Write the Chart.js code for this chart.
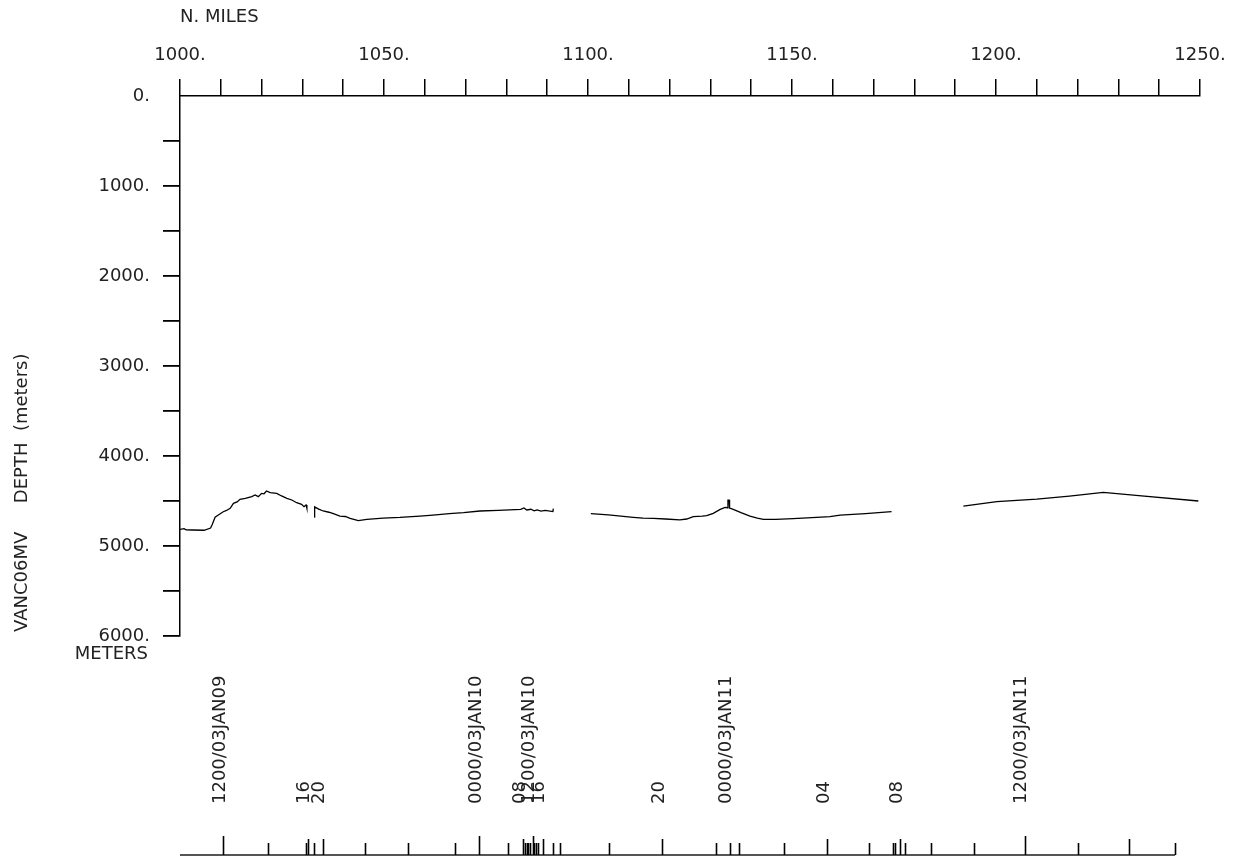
<!DOCTYPE html>
<html>
<head>
<meta charset="utf-8">
<title>VANC06MV depth</title>
<script src="https://cdn.jsdelivr.net/npm/chart.js@4.4.1/dist/chart.umd.min.js"></script>
<style>
  body { margin: 0; background: #fff; }
  #wrap { width: 1235px; height: 859px; }
</style>
</head>
<body>
<div id="wrap"><canvas id="depthChart" width="1235" height="859"></canvas></div>
<script>
// depth profile, one pair of arrays per track segment (n. miles, meters)
var seg1Miles = [1000.0, 1001.0, 1001.5, 1003.0, 1005.9, 1007.5, 1007.9, 1008.6, 1009.4, 1010.6, 1011.4, 1012.3, 1013.1, 1014.0, 1014.7, 1016.0, 1017.6, 1018.4, 1019.2, 1020.0, 1020.6, 1021.2, 1022.1, 1023.7, 1024.9, 1026.2, 1027.4, 1028.6, 1029.8, 1030.4, 1030.9, 1031.1];
var seg1Depth = [4815, 4808, 4820, 4822, 4825, 4800, 4760, 4680, 4656, 4619, 4605, 4581, 4526, 4510, 4481, 4470, 4452, 4433, 4452, 4415, 4420, 4389, 4407, 4415, 4444, 4470, 4489, 4519, 4537, 4563, 4544, 4581];

var seg2Miles = [1032.9, 1033.0, 1034.0, 1035.1, 1036.5, 1037.6, 1039.2, 1040.5, 1041.7, 1043.7, 1045.8, 1049.8, 1053.9, 1058.8, 1062.0, 1066.0, 1069.5, 1073.5, 1078.0, 1083.5, 1084.3, 1085.0, 1086.0, 1086.8, 1087.5, 1088.5, 1089.5, 1091.4, 1091.5];
var seg2Depth = [4680, 4565, 4590, 4611, 4625, 4640, 4667, 4672, 4693, 4719, 4705, 4690, 4682, 4667, 4656, 4640, 4630, 4611, 4605, 4593, 4578, 4600, 4592, 4610, 4598, 4612, 4605, 4618, 4585];

var seg3Miles = [1100.7, 1105.0, 1111.1, 1113.5, 1116.0, 1119.0, 1122.5, 1124.2, 1125.8, 1128.0, 1129.1, 1130.7, 1132.4, 1133.6, 1134.2, 1134.3, 1134.6, 1134.7, 1135.6, 1137.5, 1139.7, 1141.5, 1143.0, 1146.0, 1150.3, 1156.0, 1159.3, 1161.8, 1168.0, 1174.4];
var seg3Depth = [4641, 4655, 4681, 4690, 4693, 4700, 4710, 4700, 4674, 4668, 4663, 4637, 4593, 4570, 4575, 4490, 4490, 4578, 4593, 4630, 4667, 4690, 4705, 4705, 4696, 4681, 4674, 4656, 4640, 4618];

var seg4Miles = [1192.0, 1200.2, 1210.0, 1218.0, 1226.3, 1235.0, 1249.6];
var seg4Depth = [4556, 4508, 4480, 4445, 4404, 4440, 4500];

// labelled ticks of the two main axes
var mileLabelValues = [1000, 1050, 1100, 1150, 1200, 1250];
var depthLabelValues = [0, 1000, 2000, 3000, 4000, 5000, 6000];

// time marks along the track (0 = date, 1 = 4 hours, 2 = hour)
var timeTickMiles = [1010.6, 1021.6, 1030.9, 1031.3, 1032.9, 1035.0, 1045.4, 1056.0, 1067.5, 1073.4, 1080.5,
  1084.1, 1084.6, 1085.0, 1085.4, 1085.8, 1086.4, 1086.8, 1087.3, 1087.8, 1088.9, 1091.3, 1093.1, 1105.2,
  1118.2, 1131.3, 1134.7, 1137.0, 1148.0, 1158.7, 1168.9, 1174.8, 1175.2, 1176.5, 1177.7, 1184.0, 1194.6,
  1207.1, 1220.0, 1232.5, 1243.9];
var timeTickLevel = [0, 2, 2, 1, 2, 1, 2, 2, 2, 0, 2,
  1, 2, 2, 2, 2, 0, 2, 2, 2, 1, 2, 2, 2,
  1, 2, 2, 2, 2, 1, 2, 2, 2, 1, 2, 2, 2,
  0, 2, 1, 2];
var timeLabelMiles = [1010.6, 1031.3, 1035.0, 1073.4, 1084.1, 1086.4, 1088.9, 1118.2, 1134.7, 1158.7, 1176.5, 1207.1];
var timeLabels = ["1200/03JAN09", "16", "20", "0000/03JAN10", "08", "1200/03JAN10", "16", "20", "0000/03JAN11", "04", "08", "1200/03JAN11"];

var FONT = { family: "'DejaVu Sans', sans-serif", size: 18 };
var INK = '#222';

function toPoints(miles, depth) {
  var pts = [];
  for (var i = 0; i < miles.length; i++) {
    pts.push({ x: miles[i], y: depth[i] });
  }
  return pts;
}

function makeDataset(miles, depth) {
  return {
    data: toPoints(miles, depth),
    borderColor: '#000',
    borderWidth: 1.3,
    pointRadius: 0,
    tension: 0,
    fill: false
  };
}

// extra texts and the time axis under the plot
var extrasPlugin = {
  id: 'extras',
  afterDraw: function (chart) {
    var ctx = chart.ctx;
    var x = chart.scales.x;
    var y = chart.scales.y;
    var area = chart.chartArea;
    var fontStr = FONT.size + 'px ' + FONT.family;

    ctx.save();
    ctx.fillStyle = INK;
    ctx.font = fontStr;

    // y title
    ctx.save();
    ctx.translate(22, area.bottom - 4);
    ctx.rotate(-Math.PI / 2);
    ctx.textAlign = 'left';
    ctx.textBaseline = 'middle';
    ctx.fillText('VANC06MV     DEPTH  (meters)', 0, 0);
    ctx.restore();

    // units under the last depth label
    ctx.textAlign = 'right';
    ctx.textBaseline = 'middle';
    ctx.fillText('METERS', y.right - 32, area.bottom + 18);

    // time axis
    var baseY = area.bottom + 219;
    var tickLen = [19, 16, 12];
    ctx.strokeStyle = '#555';
    ctx.lineWidth = 2;
    ctx.beginPath();
    ctx.moveTo(x.getPixelForValue(x.min), baseY);
    ctx.lineTo(x.getPixelForValue(timeTickMiles[timeTickMiles.length - 1]), baseY);
    ctx.stroke();

    ctx.strokeStyle = '#000';
    ctx.lineWidth = 1.6;
    for (var i = 0; i < timeTickMiles.length; i++) {
      var px = Math.round(x.getPixelForValue(timeTickMiles[i])) + 0.5;
      ctx.beginPath();
      ctx.moveTo(px, baseY);
      ctx.lineTo(px, baseY - tickLen[timeTickLevel[i]]);
      ctx.stroke();
    }

    for (var j = 0; j < timeLabels.length; j++) {
      var lx = x.getPixelForValue(timeLabelMiles[j]) + 1.5;
      ctx.save();
      ctx.translate(lx, area.bottom + 168);
      ctx.rotate(-Math.PI / 2);
      ctx.textAlign = 'left';
      ctx.textBaseline = 'alphabetic';
      ctx.fillText(timeLabels[j], 0, 0);
      ctx.restore();
    }
    ctx.restore();
  }
};

function createDepthChart() {
  var canvas = document.getElementById('depthChart');
  var chart = new Chart(canvas, {
    type: 'line',
    data: {
      datasets: [
        makeDataset(seg1Miles, seg1Depth),
        makeDataset(seg2Miles, seg2Depth),
        makeDataset(seg3Miles, seg3Depth),
        makeDataset(seg4Miles, seg4Depth)
      ]
    },
    options: {
      responsive: false,
      animation: false,
      devicePixelRatio: 1,
      layout: { padding: { left: 0, top: 0, right: 35, bottom: 223 } },
      plugins: {
        legend: { display: false },
        tooltip: { enabled: false }
      },
      scales: {
        x: {
          type: 'linear',
          position: 'top',
          min: 1000,
          max: 1250,
          afterFit: function (scale) {
            scale.height = 96;
            scale.paddingLeft = 0;
            scale.paddingRight = 0;
          },
          border: { display: true, color: '#000', width: 1.5 },
          grid: { drawOnChartArea: false, tickLength: 17, color: '#000', lineWidth: 1.5 },
          ticks: {
            stepSize: 10,
            autoSkip: false,
            maxRotation: 0,
            padding: 13,
            color: INK,
            font: FONT,
            callback: function (v) {
              return mileLabelValues.indexOf(v) >= 0 ? v + '.' : '';
            }
          },
          title: {
            display: true,
            text: 'N. MILES',
            align: 'start',
            color: INK,
            font: FONT,
            padding: { top: 7, bottom: 0 }
          }
        },
        y: {
          type: 'linear',
          position: 'left',
          reverse: true,
          min: 0,
          max: 6000,
          afterFit: function (scale) { scale.width = 180; },
          border: { display: true, color: '#000', width: 1.5 },
          grid: {
            drawOnChartArea: false,
            tickLength: 17,
            lineWidth: 1.8,
            color: function (c) {
              return c.tick && c.tick.value === 0 ? 'rgba(0,0,0,0)' : '#000';
            }
          },
          ticks: {
            stepSize: 500,
            autoSkip: false,
            padding: 13,
            color: INK,
            font: FONT,
            callback: function (v) {
              return depthLabelValues.indexOf(v) >= 0 ? v + '.' : '';
            }
          }
        }
      }
    },
    plugins: [extrasPlugin]
  });
  return chart;
}

createDepthChart();
</script>
</body>
</html>
